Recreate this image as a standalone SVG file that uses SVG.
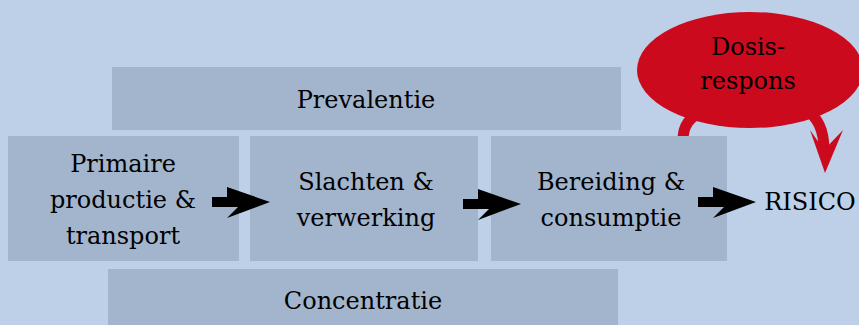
<svg xmlns="http://www.w3.org/2000/svg" width="859" height="325" viewBox="0 0 859 325">
<defs>
<style>
.box{fill:#a3b5cd}
text{font-family:'DejaVu Serif',serif;font-size:24px;fill:#000;text-anchor:middle}
.red{fill:none;stroke:#cc0a1e;stroke-width:11}
</style>
<path id="arr" d="M0,-5 L15,-5 L15,-15 L58,0 L15,16 L31,0 L31,5 L0,5 Z" fill="#000"/>
</defs>
<rect width="859" height="325" fill="#bdd0e8"/>
<g id="dosis-tail">
<path class="red" d="M683,140 C683,125 690,118 700,112"/>
<path class="red" d="M805,108 C818,118 824,130 824,150"/>
<polygon points="810,130 825,173 843,130 824,150" fill="#cc0a1e"/>
</g>
<g id="prevalentie"><rect class="box" x="112" y="67" width="509" height="63"/><text x="366" y="108">Prevalentie</text></g>
<g id="primaire"><rect class="box" x="8" y="136" width="231" height="125"/><text x="123" y="172">Primaire</text><text x="123" y="208">productie &amp;</text><text x="123" y="244">transport</text></g>
<g id="slachten"><rect class="box" x="250" y="136" width="228" height="125"/><text x="366" y="190">Slachten &amp;</text><text x="366" y="226">verwerking</text></g>
<g id="bereiding"><rect class="box" x="491" y="136" width="236" height="125"/><text x="611" y="190">Bereiding &amp;</text><text x="611" y="226">consumptie</text></g>
<g id="concentratie"><rect class="box" x="108" y="269" width="510" height="60"/><text x="363" y="309">Concentratie</text></g>
<g id="dosis"><ellipse cx="750" cy="70" rx="113" ry="58" fill="#cc0a1e"/><text x="748" y="55">Dosis-</text><text x="748" y="89">respons</text></g>
<g id="risico"><text x="810" y="210">RISICO</text></g>
<g id="connectors">
<use href="#arr" x="212" y="202"/>
<use href="#arr" x="463" y="204"/>
<use href="#arr" x="698" y="202"/>
</g>
</svg>
